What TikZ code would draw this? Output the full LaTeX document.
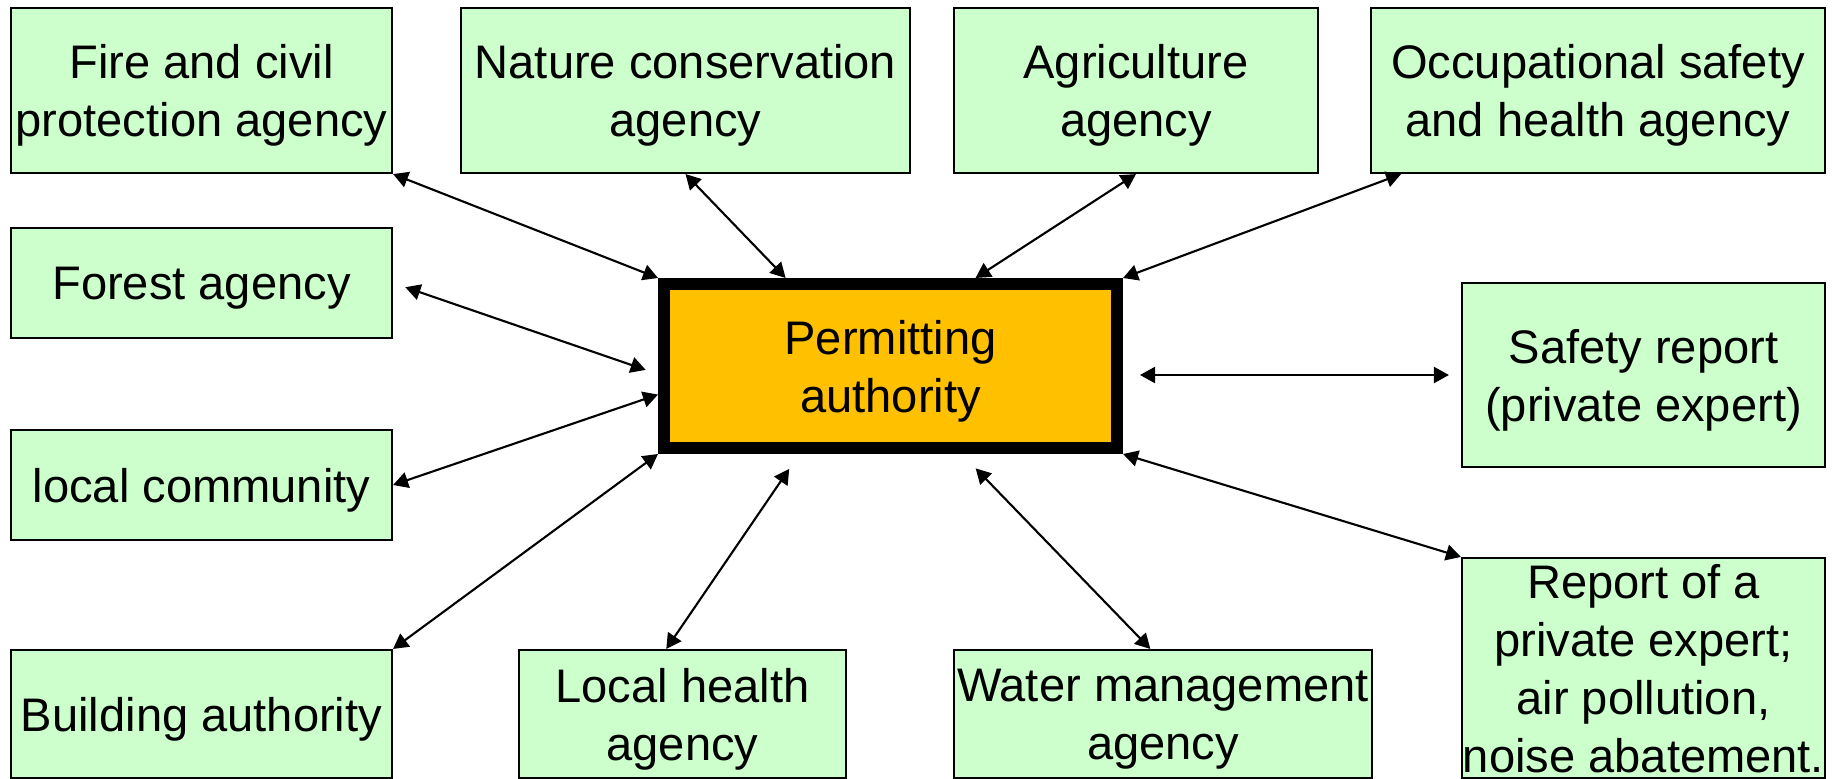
\documentclass[tikz,border=0pt]{standalone}
\usepackage{fontspec}
\setmainfont{Liberation Sans}
\usetikzlibrary{arrows.meta}
\definecolor{agencygreen}{HTML}{CCFFCC}
\definecolor{authorityorange}{HTML}{FFC000}

\begin{document}
\begin{tikzpicture}[x=0.1mm, y=-0.1mm,
                    every node/.style={font=\fontsize{13.4}{16.5}\selectfont, align=center, inner sep=0pt, text depth=0pt},
                    agency/.style={draw, line width=0.6pt, fill=agencygreen},
                    authority/.style={draw, line width=1.2mm, fill=authorityorange},
                    link/.style={line width=0.6pt, {Triangle[length=1.5mm,width=1.6mm]}-{Triangle[length=1.5mm,width=1.6mm]}}]
            \useasboundingbox (0,0) rectangle (1837,779);
            \node[authority, minimum width=45.3mm, minimum height=16.4mm] (pa) at (890.5,366) {Permitting\\authority};
            \node[agency, minimum width=38.1mm, minimum height=16.5mm] (fire) at (201.5,90.5) {Fire and civil\\protection agency};
            \node[agency, minimum width=44.9mm, minimum height=16.5mm] (nature) at (685.5,90.5) {Nature conservation\\agency};
            \node[agency, minimum width=36.4mm, minimum height=16.5mm] (agri) at (1136,90.5) {Agriculture\\agency};
            \node[agency, minimum width=45.4mm, minimum height=16.5mm] (occ) at (1598,90.5) {Occupational safety\\and health agency};
            \node[agency, minimum width=38.1mm, minimum height=11mm] (forest) at (201.5,283) {Forest agency};
            \node[agency, minimum width=38.1mm, minimum height=11mm] (lc) at (201.5,485) {local community};
            \node[agency, minimum width=38.1mm, minimum height=12.8mm] (build) at (201.5,714) {Building authority};
            \node[agency, minimum width=32.7mm, minimum height=12.8mm] (lh) at (682.5,714) {Local health\\agency};
            \node[agency, minimum width=41.8mm, minimum height=12.8mm] (wm) at (1163,714) {Water management\\agency};
            \node[agency, minimum width=36.3mm, minimum height=18.4mm] (sr) at (1643.5,375) {Safety report\\(private expert)};
            \node[agency, minimum width=36.3mm, minimum height=22mm] (rep) at (1643.5,668) {Report of a\\private expert;\\air pollution,\\noise abatement.};
            \draw[link] (fire.south east) -- (pa.north west);
            \draw[link] (nature.south) -- (pa.140);
            \draw[link] (agri.south) -- (pa.46);
            \draw[link] (occ.203) -- (pa.north east);
            \draw[link, shorten <=1.3mm, shorten >=1.3mm] (forest.east) -- (pa.182);
            \draw[link, shorten <=1.7mm, shorten >=1.2mm] (pa.east |- sr.west) -- (sr.west);
            \draw[link] (pa.187) -- (lc.east);
            \draw[link] (pa.south west) -- (build.north east);
            \draw[link, shorten <=1.8mm] (pa.224) -- (lh.104);
            \draw[link, shorten <=2mm] (pa.309) -- (wm.101);
            \draw[link] (pa.south east) -- (rep.north west);
        \end{tikzpicture}
\end{document}
